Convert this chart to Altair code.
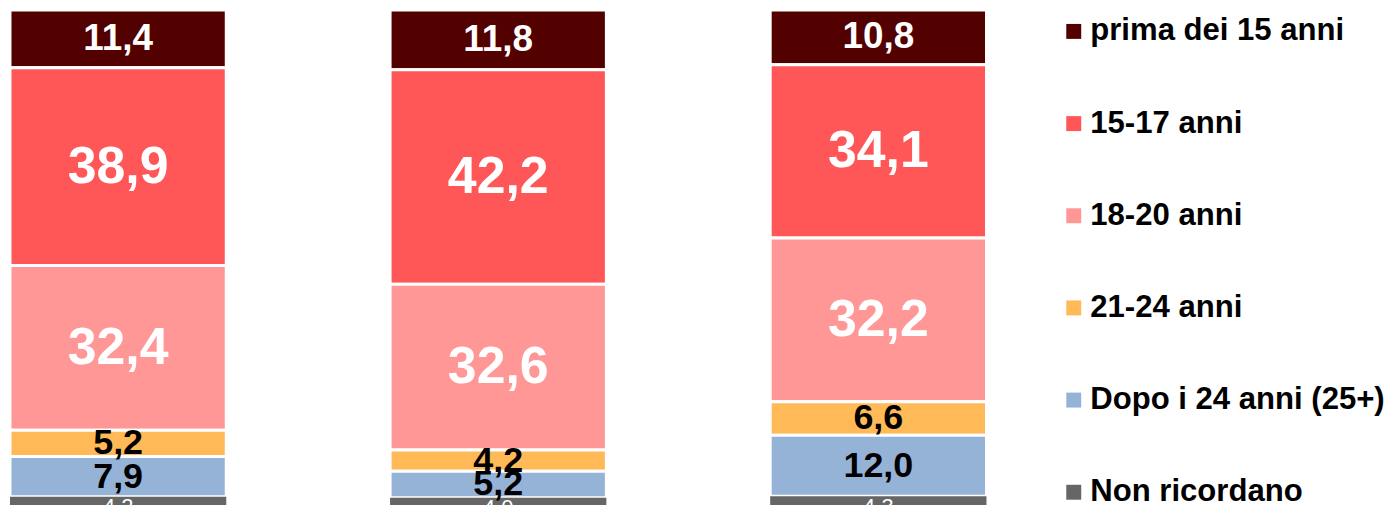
import altair as alt
import pandas as pd

groups = ["Colonna 1", "Colonna 2", "Colonna 3"]
categories = ["prima dei 15 anni", "15-17 anni", "18-20 anni", "21-24 anni",
              "Dopo i 24 anni (25+)", "Non ricordano"]
colors = ["#520000", "#FF5757", "#FF9797", "#FFB957", "#95B3D7", "#666666"]

prima = [11.4, 11.8, 10.8]
a15_17 = [38.9, 42.2, 34.1]
a18_20 = [32.4, 32.6, 32.2]
a21_24 = [5.2, 4.2, 6.6]
dopo24 = [7.9, 5.2, 12.0]
non_ric = [4.2, 4.0, 4.3]

series = [prima, a15_17, a18_20, a21_24, dopo24, non_ric]
rows = []
for ci, (cat, vals) in enumerate(zip(categories, series)):
    for g, v in zip(groups, vals):
        rows.append({"group": g, "cat": cat, "value": v, "ord": len(categories) - 1 - ci})
df = pd.DataFrame(rows)

FONT = "Liberation Sans"

base = alt.Chart(df).transform_stack(
    stack="value", groupby=["group"], as_=["y0", "y1"], sort=[alt.SortField("ord", order="ascending")]
).transform_calculate(
    mid="(datum.y0 + datum.y1) / 2",
    label="replace(format(datum.value, '.1f'), '.', ',')"
)

xenc = alt.X("group:N", axis=None, sort=groups,
             scale=alt.Scale(paddingInner=0.431, paddingOuter=0.0052))
# the reference image is cropped at the bottom, so the lowest part of the stack is cut off
yscale = alt.Scale(domain=[2.55, 100], nice=False, zero=False)

bars = base.mark_bar(stroke="white", clip=True).encode(
    x=xenc,
    y=alt.Y("y0:Q", axis=None, scale=yscale),
    y2="y1:Q",
    strokeWidth=alt.condition(alt.datum.cat == "Non ricordano", alt.value(0), alt.value(3)),
    color=alt.Color("cat:N", sort=categories,
                    scale=alt.Scale(domain=categories, range=colors),
                    legend=alt.Legend(title=None, orient="none", legendX=1054, legendY=6,
                                      symbolType="square", symbolSize=225,
                                      symbolStrokeWidth=0, labelFont=FONT,
                                      labelFontSize=31.2, labelFontWeight="bold",
                                      labelColor="black", labelOffset=1,
                                      rowPadding=60.5, padding=0, labelLimit=400)),
)

def labels(cats, size, color, weight):
    return base.transform_filter(
        alt.FieldOneOfPredicate(field="cat", oneOf=cats)
    ).mark_text(font=FONT, fontSize=size, fontWeight=weight, color=color,
                baseline="middle", align="center").encode(
        x=xenc,
        y=alt.Y("mid:Q", scale=yscale),
        text="label:N",
    )

chart = alt.layer(
    bars,
    labels(["15-17 anni", "18-20 anni"], 52, "white", "bold"),
    labels(["prima dei 15 anni"], 37, "white", "bold"),
    labels(["21-24 anni", "Dopo i 24 anni (25+)"], 36, "black", "bold"),
    labels(["Non ricordano"], 22, "white", "normal"),
).properties(
    width=984, height=497,
    autosize=alt.AutoSizeParams(type="none"),
    padding={"top": 1, "left": 0, "right": 402, "bottom": 0},
).configure_view(stroke=None)

chart.save("out.html", embed_options={"renderer": "svg", "actions": False})
